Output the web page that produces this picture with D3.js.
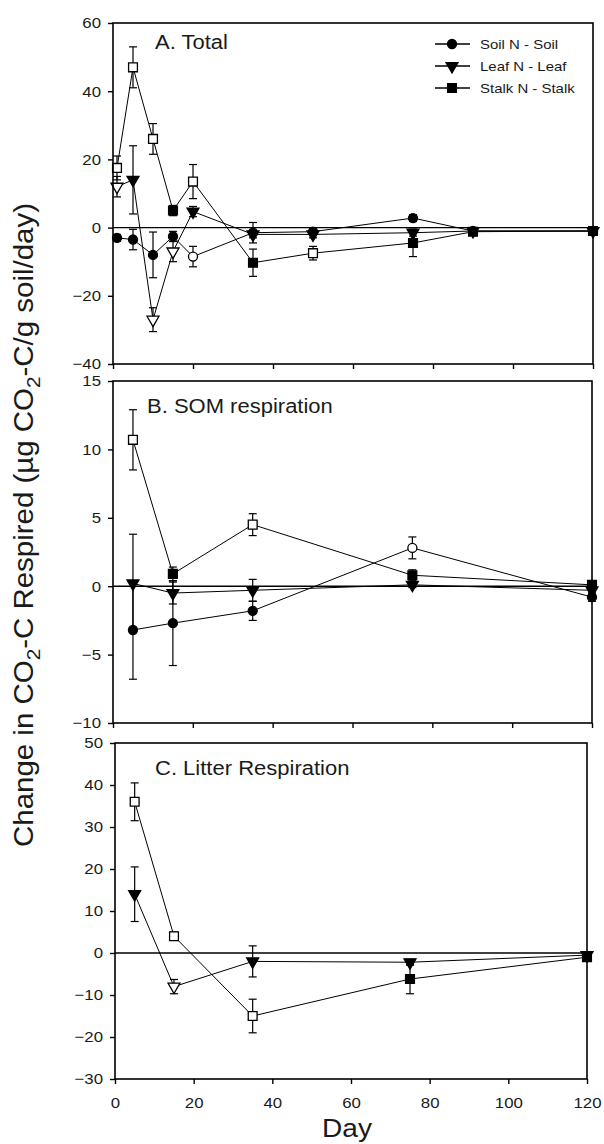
<!DOCTYPE html>
<html>
<head>
<meta charset="utf-8">
<script src="https://cdn.jsdelivr.net/npm/d3@7"></script>
<style>
  body { margin: 0; background: #fff; }
  text { font-family: "Liberation Sans", Arial, sans-serif; fill: #1a1a1a; }
</style>
</head>
<body>
<svg id="chart" width="604" height="1144"></svg>
<script>
// ---- data ----
var daysA = [1, 5, 10, 15, 20, 35, 50, 75, 90, 120];
var daysBC = [5, 15, 35, 75, 120];
var dayTicks = [0, 20, 40, 60, 80, 100, 120];

// A. Total
var soilA      = [-3, -3.5, -8, -2.6, -8.5, -1.5, -1.2, 2.8, -1, -1];
var soilAErr   = [1, 3, 6.7, 1.5, 3, 3, 1, 1, 0.5, 0.5];
var soilAOpen  = [0, 0, 0, 0, 1, 0, 0, 0, 0, 0];
var leafA      = [12, 14, -27, -7, 4.7, -2, -2, -1.5, -1, -1];
var leafAErr   = [3, 10, 3.5, 3, 1.5, 1, 1, 1, 0.5, 0.5];
var leafAOpen  = [1, 0, 1, 1, 0, 0, 0, 0, 0, 0];
var stalkA     = [17.5, 47, 26, 5, 13.5, -10.3, -7.5, -4.5, -1.2, -1];
var stalkAErr  = [3.5, 6, 4.5, 1.5, 5, 4, 2, 4, 0.5, 0.5];
var stalkAOpen = [1, 1, 1, 0, 1, 0, 1, 0, 0, 0];
var ticksA = [-40, -20, 0, 20, 40, 60];

// B. SOM respiration
var soilB      = [-3.2, -2.7, -1.8, 2.8, -0.8];
var soilBErr   = [3.6, 3.1, 0.7, 0.8, 0.3];
var soilBOpen  = [0, 0, 0, 1, 0];
var leafB      = [0.2, -0.5, -0.3, 0.1, -0.3];
var leafBErr   = [3.6, 0.8, 0.8, 0.2, 0.2];
var leafBOpen  = [0, 0, 0, 0, 0];
var stalkB     = [10.7, 0.9, 4.5, 0.8, 0.1];
var stalkBErr  = [2.2, 0.5, 0.8, 0.4, 0.3];
var stalkBOpen = [1, 0, 1, 0, 0];
var ticksB = [-10, -5, 0, 5, 10, 15];

// C. Litter Respiration
var leafC      = [14, -8, -2, -2.2, -0.5];
var leafCErr   = [6.5, 1.7, 3.7, 0.7, 0.5];
var leafCOpen  = [0, 1, 0, 0, 0];
var stalkC     = [36, 4, -15, -6.2, -1];
var stalkCErr  = [4.5, 1, 4, 3.5, 0.7];
var stalkCOpen = [1, 1, 1, 0, 0];
var ticksC = [-30, -20, -10, 0, 10, 20, 30, 40, 50];

var legendNames = ['Soil N - Soil', 'Leaf N - Leaf', 'Stalk N - Stalk'];

// ---- helpers ----
var svg = d3.select('#chart');

// the figure's lettering is a bit wider than Arial, stretch it
function stretch(sel, k) {
  sel.each(function() {
    var w = this.getComputedTextLength();
    d3.select(this).attr('textLength', w * k).attr('lengthAdjust', 'spacingAndGlyphs');
  });
}

var shapes = {
  soil:  { type: d3.symbolCircle,   size: 64, rot: 0 },
  leaf:  { type: d3.symbolTriangle, size: 62, rot: 180 },
  stalk: { type: d3.symbolSquare,   size: 78, rot: 0 }
};

function marker(g, kind, cx, cy, open) {
  var s = shapes[kind];
  g.append('path')
    .attr('d', d3.symbol().type(s.type).size(s.size)())
    .attr('transform', 'translate(' + cx + ',' + cy + ') rotate(' + s.rot + ')')
    .attr('fill', open ? '#fff' : '#000')
    .attr('stroke', '#000')
    .attr('stroke-width', 1.3);
}

function drawPanel(p) {
  var x = d3.scaleLinear().domain([0, 120]).range([p.left, p.right]);
  var y = d3.scaleLinear().domain(p.yDomain).range([p.bottom, p.top]);
  var g = svg.append('g');

  // zero line
  g.append('line')
    .attr('x1', p.left).attr('x2', p.right)
    .attr('y1', y(0)).attr('y2', y(0))
    .attr('stroke', '#000').attr('stroke-width', 1.4);

  var line = d3.line().x(function(d) { return x(d.day); }).y(function(d) { return y(d.v); });

  p.series.forEach(function(s) {
    var pts = p.days.map(function(d, i) {
      return { day: d, v: s.values[i], e: s.err[i], open: s.open[i] };
    });
    s.pts = pts;
    g.append('path')
      .attr('d', line(pts))
      .attr('fill', 'none')
      .attr('stroke', '#000')
      .attr('stroke-width', 1);
    pts.forEach(function(d) {
      var cx = x(d.day);
      g.append('line').attr('x1', cx).attr('x2', cx)
        .attr('y1', y(d.v - d.e)).attr('y2', y(d.v + d.e))
        .attr('stroke', '#000').attr('stroke-width', 1.2);
      [d.v - d.e, d.v + d.e].forEach(function(v) {
        g.append('line').attr('x1', cx - 4).attr('x2', cx + 4)
          .attr('y1', y(v)).attr('y2', y(v))
          .attr('stroke', '#000').attr('stroke-width', 1.2);
      });
    });
  });
  p.series.forEach(function(s) {
    s.pts.forEach(function(d) { marker(g, s.kind, x(d.day), y(d.v), d.open); });
  });

  // frame
  g.append('rect')
    .attr('x', p.left).attr('y', p.top)
    .attr('width', p.right - p.left).attr('height', p.bottom - p.top)
    .attr('fill', 'none').attr('stroke', '#000').attr('stroke-width', 1.6);

  // axes
  var ya = g.append('g')
    .attr('transform', 'translate(' + p.left + ',0)')
    .call(d3.axisLeft(y).tickValues(p.yTicks).tickSize(5).tickPadding(7).tickFormat(d3.format('d')));
  var xa = g.append('g')
    .attr('transform', 'translate(0,' + p.bottom + ')')
    .call(d3.axisBottom(x).tickValues(dayTicks).tickSize(5).tickPadding(13)
      .tickFormat(p.xLabels ? d3.format('d') : function() { return ''; }));
  [ya, xa].forEach(function(a) {
    a.select('.domain').remove();
    a.selectAll('line').attr('stroke', '#000').attr('stroke-width', 1.4);
    a.selectAll('text').attr('font-size', 15).attr('fill', '#1a1a1a')
      .attr('font-family', '"Liberation Sans", Arial, sans-serif');
  });
  stretch(ya.selectAll('text'), 1.12);
  stretch(xa.selectAll('text'), 1.12);

  var t = g.append('text')
    .attr('x', p.labelX).attr('y', p.labelY)
    .attr('font-size', 20)
    .text(p.label);
  stretch(t, 1.1);
}

drawPanel({
  label: 'A. Total', labelX: 155, labelY: 49,
  left: 113, right: 593, top: 23, bottom: 364,
  yDomain: [-40, 60], yTicks: ticksA, days: daysA, xLabels: false,
  series: [
    { kind: 'soil',  values: soilA,  err: soilAErr,  open: soilAOpen },
    { kind: 'leaf',  values: leafA,  err: leafAErr,  open: leafAOpen },
    { kind: 'stalk', values: stalkA, err: stalkAErr, open: stalkAOpen }
  ]
});

drawPanel({
  label: 'B. SOM respiration', labelX: 147, labelY: 413,
  left: 113, right: 592, top: 381, bottom: 723,
  yDomain: [-10, 15], yTicks: ticksB, days: daysBC, xLabels: false,
  series: [
    { kind: 'soil',  values: soilB,  err: soilBErr,  open: soilBOpen },
    { kind: 'leaf',  values: leafB,  err: leafBErr,  open: leafBOpen },
    { kind: 'stalk', values: stalkB, err: stalkBErr, open: stalkBOpen }
  ]
});

drawPanel({
  label: 'C. Litter Respiration', labelX: 155, labelY: 775,
  left: 115, right: 587, top: 743, bottom: 1079,
  yDomain: [-30, 50], yTicks: ticksC, days: daysBC, xLabels: true,
  series: [
    { kind: 'leaf',  values: leafC,  err: leafCErr,  open: leafCOpen },
    { kind: 'stalk', values: stalkC, err: stalkCErr, open: stalkCOpen }
  ]
});

// legend (panel A)
var kinds = ['soil', 'leaf', 'stalk'];
var lg = svg.append('g');
legendNames.forEach(function(name, i) {
  var cy = 44 + i * 22;
  lg.append('line').attr('x1', 435).attr('x2', 470).attr('y1', cy).attr('y2', cy)
    .attr('stroke', '#000').attr('stroke-width', 1.4);
  marker(lg, kinds[i], 452, cy, false);
  var t = lg.append('text').attr('x', 480).attr('y', cy + 5)
    .attr('font-size', 13).attr('fill', '#333').text(name);
  stretch(t, 1.15);
});

// axis titles
var yt = svg.append('text')
  .attr('transform', 'translate(33,525) rotate(-90)')
  .attr('text-anchor', 'middle')
  .attr('font-size', 27);
yt.append('tspan').text('Change in CO');
yt.append('tspan').attr('font-size', 19).attr('dy', 7).text('2');
yt.append('tspan').attr('dy', -7).text('-C Respired (\u00b5g CO');
yt.append('tspan').attr('font-size', 19).attr('dy', 7).text('2');
yt.append('tspan').attr('dy', -7).text('-C/g soil/day)');
yt.attr('textLength', 644).attr('lengthAdjust', 'spacingAndGlyphs');

var xt = svg.append('text')
  .attr('x', 347).attr('y', 1137)
  .attr('text-anchor', 'middle')
  .attr('font-size', 26)
  .text('Day');
stretch(xt, 1.08);
</script>
</body>
</html>
